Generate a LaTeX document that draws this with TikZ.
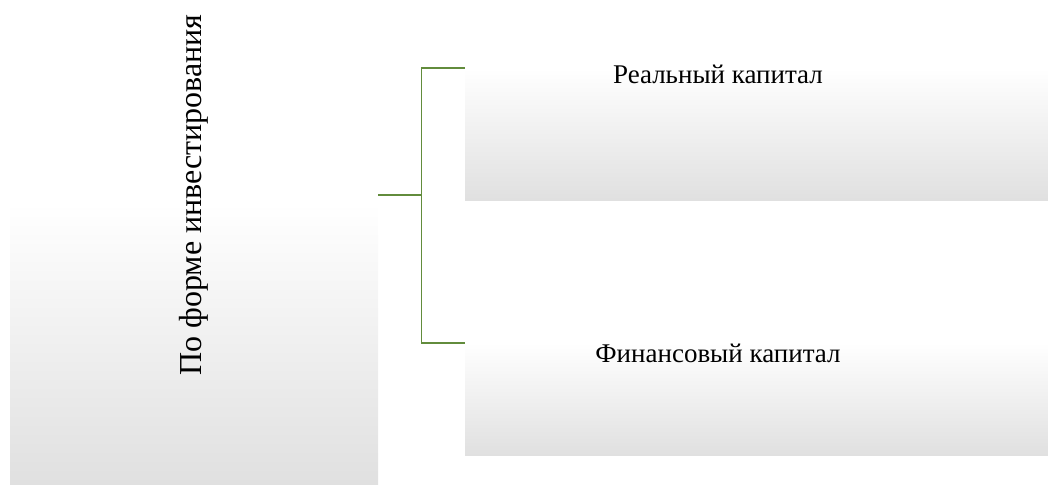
\documentclass[tikz,border=0pt]{standalone}
\usepackage{fontspec}
\setmainfont{Liberation Serif}
\usetikzlibrary{positioning}

\definecolor{boxgray}{RGB}{224,224,224}
\definecolor{linkgreen}{RGB}{98,140,60}

\begin{document}
\begin{tikzpicture}[x=1pt, y=-1pt]

\tikzset{
    shadebox/.style={inner sep=0pt, outer sep=0pt, anchor=north west,
      top color=white, bottom color=boxgray},
    label/.style={inner sep=0pt, anchor=base, font=\fontsize{27}{32}\selectfont},
    biglabel/.style={label, font=\fontsize{32}{38}\selectfont},
    link/.style={draw=linkgreen, line width=1.5pt}
}

\useasboundingbox (0,0) rectangle (1048,484);

%%% Left block %%%
\node[shadebox, minimum width=368pt, minimum height=281pt] (form) at (10,203) {};
\node[biglabel, rotate=90] (formtxt) at (201,195) {По форме инвестирования};

%%% Right blocks %%%
\node[shadebox, minimum width=583pt, minimum height=132pt] (real) at (465,68) {};
\node[label] (realtxt) at (718,84) {Реальный капитал};

\node[shadebox, minimum width=583pt, minimum height=112pt] (fin) at (465,343) {};
\node[label] (fintxt) at (718,362) {Финансовый капитал};

% connectors
\coordinate (root) at ([yshift=8pt]form.north east);
\coordinate[right=43.5pt of root] (fork);
\draw[link] (root) -- (fork) |- (real.north west);
\draw[link] (fork) |- (fin.north west);

\end{tikzpicture}
\end{document}
